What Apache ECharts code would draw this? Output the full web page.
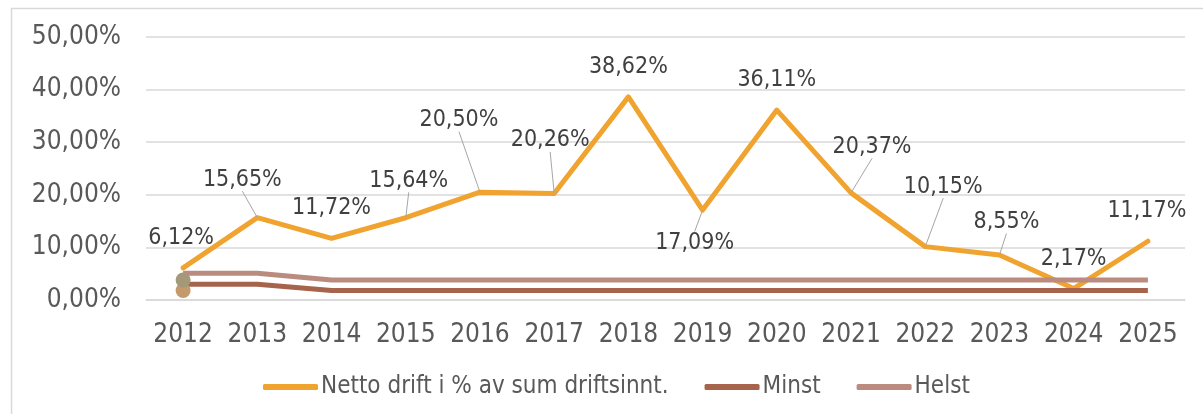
<!DOCTYPE html>
<html>
<head>
<meta charset="utf-8">
<script src="https://cdn.jsdelivr.net/npm/echarts@6/dist/echarts.min.js"></script>
<style>
html,body{margin:0;padding:0;background:#fff;}
#chart{width:1203px;height:414px;}
</style>
</head>
<body>
<div id="chart"></div>
<script>
// ---- data ----
const years = ['2012','2013','2014','2015','2016','2017','2018','2019','2020','2021','2022','2023','2024','2025'];
const nettoDrift = [6.12, 15.65, 11.72, 15.64, 20.50, 20.26, 38.62, 17.09, 36.11, 20.37, 10.15, 8.55, 2.17, 11.17];
const minst = [3.0, 3.0, 1.8, 1.8, 1.8, 1.8, 1.8, 1.8, 1.8, 1.8, 1.8, 1.8, 1.8, 1.8];
const helst = [5.1, 5.1, 3.8, 3.8, 3.8, 3.8, 3.8, 3.8, 3.8, 3.8, 3.8, 3.8, 3.8, 3.8];
const dotA = [3.8];   // marker at first year (upper)
const dotB = [1.8];   // marker at first year (lower)
const yTicks = [0, 10, 20, 30, 40, 50];
const seriesNames = ['Netto drift i % av sum driftsinnt.', 'Minst', 'Helst'];

// ---- label styling (offsets of the moved data labels, and which have leader lines) ----
const labelShift = [[-2,0],[-15,-8],[0,0],[3,-7],[-21,-42],[-4,-23],[0,0],[-8,63],[0,0],[21,-16],[18,-30],[7,-3],[0,0],[-1,0]];
const leader = [false,true,false,true,true,true,false,true,false,true,true,true,false,false];

const FONT = "'DejaVu Sans Condensed', 'DejaVu Sans', Verdana, sans-serif";
const fmt = v => Number(v).toFixed(2).replace('.', ',') + '%';

const chart = echarts.init(document.getElementById('chart'), null, {renderer: 'canvas'});
chart.setOption({
  animation: false,
  backgroundColor: '#ffffff',
  textStyle: {fontFamily: FONT},
  graphic: [{
    type: 'rect', left: 9, top: 6, silent: true, z: -10,
    shape: {width: 1210, height: 420},
    style: {fill: 'none', stroke: '#d9d9d9', lineWidth: 1.5}
  }],
  grid: {left: 146, right: 18, top: 37, bottom: 114, containLabel: false},
  legend: {
    data: seriesNames,
    left: 258, top: 370,
    icon: 'roundRect',
    itemWidth: 55, itemHeight: 6,
    itemGap: 36,
    textStyle: {fontFamily: FONT, fontSize: 24, color: '#595959', padding: [0,0,0,-2]}
  },
  xAxis: {
    type: 'category',
    data: years,
    boundaryGap: true,
    axisLine: {show: true, lineStyle: {color: '#d9d9d9', width: 1.5}},
    axisTick: {show: false},
    axisLabel: {fontFamily: FONT, fontSize: 26, color: '#595959', margin: 22, interval: 0}
  },
  yAxis: {
    type: 'value',
    min: yTicks[0], max: yTicks[yTicks.length - 1], interval: yTicks[1] - yTicks[0],
    axisLine: {show: false},
    axisTick: {show: false},
    splitLine: {lineStyle: {color: '#d9d9d9', width: 1.5}},
    axisLabel: {fontFamily: FONT, fontSize: 26, color: '#595959', margin: 25, formatter: fmt}
  },
  series: [
    {
      name: seriesNames[0], type: 'line',
      data: nettoDrift.map((v, i) => ({value: v, labelLine: {show: leader[i]}})),
      symbol: 'circle', symbolSize: 1, showSymbol: true,
      lineStyle: {color: '#f0a32f', width: 5, cap: 'round', join: 'round'},
      itemStyle: {color: '#f0a32f'},
      label: {show: true, position: 'top', distance: 18, fontFamily: FONT, fontSize: 23, color: '#404040', formatter: p => fmt(p.value)},
      labelLine: {show: false, lineStyle: {color: '#a6a6a6', width: 1}},
      labelLayout: p => ({dx: labelShift[p.dataIndex][0], dy: labelShift[p.dataIndex][1]}),
      z: 2
    },
    {
      name: seriesNames[1], type: 'line', data: minst,
      symbol: 'none',
      lineStyle: {color: '#a6644c', width: 5, join: 'round'},
      itemStyle: {color: '#a6644c'},
      z: 3
    },
    {
      name: seriesNames[2], type: 'line', data: helst,
      symbol: 'none',
      lineStyle: {color: '#ba8b7e', width: 5, join: 'round'},
      itemStyle: {color: '#ba8b7e'},
      z: 4
    },
    {
      name: 'dotB', type: 'scatter', data: dotB,
      symbolSize: 15, itemStyle: {color: '#c4996c', opacity: 1}, z: 5
    },
    {
      name: 'dotA', type: 'scatter', data: dotA,
      symbolSize: 15, itemStyle: {color: '#a39878', opacity: 1}, z: 6
    }
  ]
});
</script>
</body>
</html>
